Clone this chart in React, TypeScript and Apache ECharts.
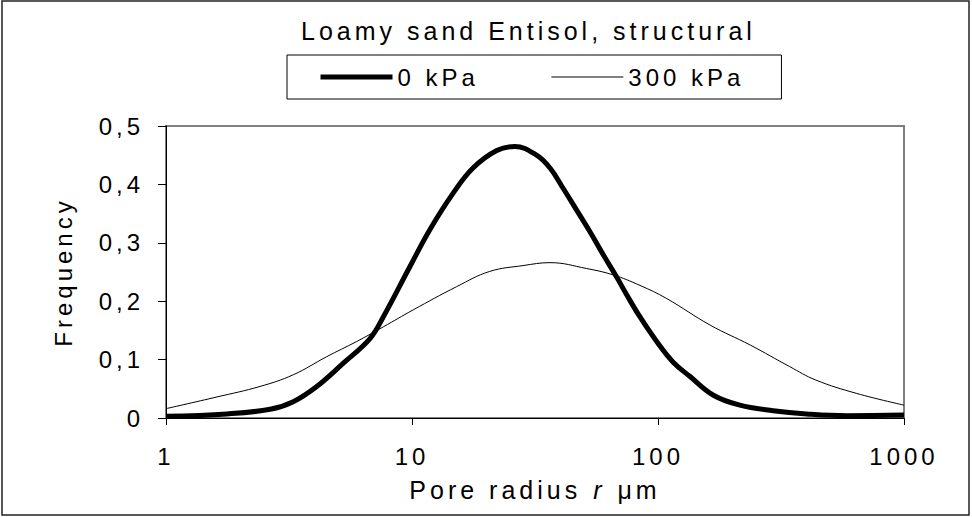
import React, { useEffect, useRef } from "react";
import * as echarts from "echarts";

// Pore radius (µm) and frequency, 0 kPa
const radius0 = [1, 1.77, 2.65, 3.29, 4.1, 5.26, 6.75, 7.64, 9.8, 11.8, 14.7, 17.7, 22.1, 26.2, 32.1, 36.4, 41.2, 46.7, 52.9, 60, 68, 74.6, 84.5, 98.8, 115, 135, 168, 215, 294, 402, 585, 1000];
const freq0 = [0.003, 0.007, 0.015, 0.028, 0.054, 0.094, 0.136, 0.173, 0.259, 0.322, 0.385, 0.428, 0.458, 0.465, 0.45, 0.428, 0.393, 0.356, 0.319, 0.279, 0.241, 0.211, 0.173, 0.131, 0.096, 0.071, 0.039, 0.022, 0.0125, 0.007, 0.004, 0.005];

// Pore radius (µm) and frequency, 300 kPa
const radius300 = [1, 1.61, 2.41, 3.29, 4.5, 5.96, 7.64, 10.1, 15.2, 20.7, 28.3, 36.4, 51.2, 65.8, 84.5, 108, 163, 237, 343, 438, 643, 1000];
const freq300 = [0.016, 0.036, 0.054, 0.074, 0.105, 0.131, 0.156, 0.185, 0.225, 0.251, 0.261, 0.266, 0.256, 0.245, 0.227, 0.205, 0.159, 0.125, 0.088, 0.065, 0.042, 0.022];

const seriesNames = ["0 kPa", "300 kPa"];
const xTickLabels = ["1", "10", "100", "1000"];
const yTickLabels = ["0", "0,1", "0,2", "0,3", "0,4", "0,5"];

const FONT = "'Liberation Sans', Arial, sans-serif";
const SPACING = 4; // letter spacing applied through CSS

export default function App() {
  const ref = useRef<HTMLDivElement>(null);
  useEffect(() => {
    document.body.style.margin = "0";
    const chart = echarts.init(ref.current!, undefined, { renderer: "svg" });
    const txt = { fontFamily: FONT, fontSize: 24, color: "#000" };
    const nameTxt = { ...txt, fontSize: 25 };
    chart.setOption({
      animation: false,
      backgroundColor: "#fff",
      textStyle: { fontFamily: FONT },
      title: {
        text: "Loamy sand Entisol, structural",
        left: 301,
        top: 18,
        padding: 0,
        textStyle: { ...txt, fontSize: 25, fontWeight: "normal" },
      },
      legend: {
        left: 287,
        top: 55,
        padding: [10, 65, 10, 31],
        borderColor: "#000",
        borderWidth: 1,
        backgroundColor: "#fff",
        itemWidth: 72,
        itemHeight: 20,
        itemGap: 92,
        data: seriesNames,
        textStyle: txt,
        lineStyle: { width: "inherit" },
        itemStyle: { opacity: 0 },
      },
      graphic: [
        {
          type: "rect",
          silent: true,
          z: -10,
          shape: { x: 2, y: 1, width: 967, height: 514 },
          style: { fill: "none", stroke: "#222", lineWidth: 1.5 },
        },
      ],
      grid: {
        left: 166,
        top: 126,
        right: 68,
        bottom: 99,
        show: true,
        borderColor: "#808080",
        borderWidth: 2,
        backgroundColor: "transparent",
      },
      xAxis: {
        type: "log",
        logBase: 10,
        min: 1,
        max: 1000,
        name: "{a|Pore radius }{i|r}{b| μm}",
        nameLocation: "middle",
        nameGap: 59,
        nameTextStyle: {
          ...nameTxt,
          rich: {
            a: { ...nameTxt, padding: [0, 6 * SPACING, 0, 6 * SPACING] },
            i: { ...nameTxt, fontStyle: "italic", padding: [0, 3, 0, 3] },
            b: { ...nameTxt, padding: [0, 1.5 * SPACING, 0, 1.5 * SPACING] },
          },
        },
        axisLine: { show: true, lineStyle: { color: "#000", width: 1 } },
        axisTick: { show: true, length: 7, lineStyle: { color: "#000" } },
        minorTick: { show: false },
        splitLine: { show: false },
        axisLabel: {
          ...txt,
          margin: 26,
          formatter: (v: number) => xTickLabels[Math.round(Math.log10(v))] ?? String(v),
        },
      },
      yAxis: {
        type: "value",
        min: 0,
        max: 0.5,
        interval: 0.1,
        name: "Frequency",
        nameLocation: "middle",
        nameRotate: 90,
        nameGap: 91,
        nameTextStyle: txt,
        axisLine: { show: true, lineStyle: { color: "#000", width: 1 } },
        axisTick: { show: true, length: 8, lineStyle: { color: "#000" } },
        splitLine: { show: false },
        axisLabel: {
          ...txt,
          margin: 22,
          formatter: (v: number) => yTickLabels[Math.round(v * 10)] ?? String(v),
        },
      },
      series: [
        {
          name: seriesNames[0],
          type: "line",
          symbol: "none",
          smooth: 0.4,
          lineStyle: { color: "#000", width: 5 },
          itemStyle: { color: "#000" },
          data: radius0.map((r, i) => [r, freq0[i]]),
        },
        {
          name: seriesNames[1],
          type: "line",
          symbol: "none",
          smooth: 0.4,
          lineStyle: { color: "#000", width: 1 },
          itemStyle: { color: "#000" },
          data: radius300.map((r, i) => [r, freq300[i]]),
        },
      ],
    });
    return () => chart.dispose();
  }, []);
  return (
    <>
      <style>{`.rc-chart svg text { letter-spacing: ${SPACING}px; }`}</style>
      <div ref={ref} className="rc-chart" style={{ width: 972, height: 517 }} />
    </>
  );
}
